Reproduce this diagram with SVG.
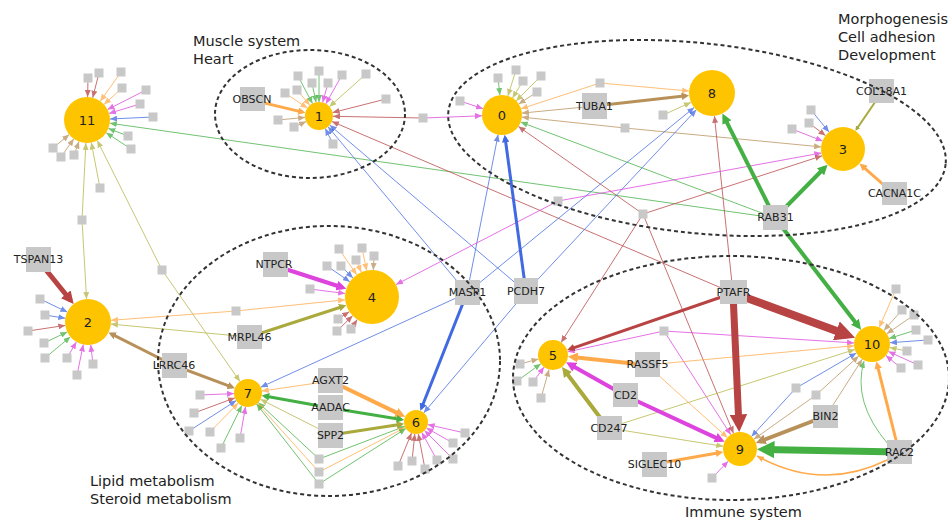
<svg xmlns="http://www.w3.org/2000/svg" width="948" height="521" viewBox="0 0 948 521">
<defs>
<style>
text{font-family:"DejaVu Sans","Liberation Sans",sans-serif;fill:#222}
.lab{font-size:14.5px}
.gl{font-size:11px;text-anchor:middle;dominant-baseline:central}
.nl{font-size:13px;text-anchor:middle;dominant-baseline:central}
.cn{fill:#FFC400}
.gb{fill:#C8C8C8}
.sq{fill:#C8C8C8}
.ell{fill:none;stroke:#333;stroke-width:2;stroke-dasharray:4 3}
.c{fill:none}
.t{stroke-width:1;opacity:.75}
.tr{stroke:#B84343;marker-end:url(#mtr)}
.to{stroke:#FFAA4A;marker-end:url(#mto)}
.tm{stroke:#DD44DD;marker-end:url(#mtm)}
.tb{stroke:#4169E1;marker-end:url(#mtb)}
.tg{stroke:#44B044;marker-end:url(#mtg)}
.tl{stroke:#B5B545;marker-end:url(#mtl)}
.tt{stroke:#B8915A;marker-end:url(#mtt)}
.kr{stroke:#B84343;marker-end:url(#mkr)}
.ko{stroke:#FFAA4A;marker-end:url(#mko)}
.km{stroke:#DD44DD;marker-end:url(#mkm)}
.kb{stroke:#4169E1;marker-end:url(#mkb)}
.kg{stroke:#44B044;marker-end:url(#mkg)}
.kl{stroke:#A9A93C;marker-end:url(#mkl)}
.kt{stroke:#B8915A;marker-end:url(#mkt)}
</style>
<marker id="mtr" markerUnits="userSpaceOnUse" markerWidth="7" markerHeight="6" viewBox="0 0 7 6" refX="7" refY="3" orient="auto"><path d="M0,0L7,3L0,6z" fill="#B84343"/></marker>
<marker id="mto" markerUnits="userSpaceOnUse" markerWidth="7" markerHeight="6" viewBox="0 0 7 6" refX="7" refY="3" orient="auto"><path d="M0,0L7,3L0,6z" fill="#FFAA4A"/></marker>
<marker id="mtm" markerUnits="userSpaceOnUse" markerWidth="7" markerHeight="6" viewBox="0 0 7 6" refX="7" refY="3" orient="auto"><path d="M0,0L7,3L0,6z" fill="#DD44DD"/></marker>
<marker id="mtb" markerUnits="userSpaceOnUse" markerWidth="7" markerHeight="6" viewBox="0 0 7 6" refX="7" refY="3" orient="auto"><path d="M0,0L7,3L0,6z" fill="#4169E1"/></marker>
<marker id="mtg" markerUnits="userSpaceOnUse" markerWidth="7" markerHeight="6" viewBox="0 0 7 6" refX="7" refY="3" orient="auto"><path d="M0,0L7,3L0,6z" fill="#44B044"/></marker>
<marker id="mtl" markerUnits="userSpaceOnUse" markerWidth="7" markerHeight="6" viewBox="0 0 7 6" refX="7" refY="3" orient="auto"><path d="M0,0L7,3L0,6z" fill="#B5B545"/></marker>
<marker id="mtt" markerUnits="userSpaceOnUse" markerWidth="7" markerHeight="6" viewBox="0 0 7 6" refX="7" refY="3" orient="auto"><path d="M0,0L7,3L0,6z" fill="#B8915A"/></marker>
<marker id="mkr" markerUnits="strokeWidth" markerWidth="2.5" markerHeight="2.5" viewBox="0 0 10 10" refX="6" refY="5" orient="auto"><path d="M0,0L10,5L0,10z" fill="#B84343"/></marker>
<marker id="mko" markerUnits="strokeWidth" markerWidth="2.5" markerHeight="2.5" viewBox="0 0 10 10" refX="6" refY="5" orient="auto"><path d="M0,0L10,5L0,10z" fill="#FFAA4A"/></marker>
<marker id="mkm" markerUnits="strokeWidth" markerWidth="2.5" markerHeight="2.5" viewBox="0 0 10 10" refX="6" refY="5" orient="auto"><path d="M0,0L10,5L0,10z" fill="#DD44DD"/></marker>
<marker id="mkb" markerUnits="strokeWidth" markerWidth="2.5" markerHeight="2.5" viewBox="0 0 10 10" refX="6" refY="5" orient="auto"><path d="M0,0L10,5L0,10z" fill="#4169E1"/></marker>
<marker id="mkg" markerUnits="strokeWidth" markerWidth="2.5" markerHeight="2.5" viewBox="0 0 10 10" refX="6" refY="5" orient="auto"><path d="M0,0L10,5L0,10z" fill="#44B044"/></marker>
<marker id="mkl" markerUnits="strokeWidth" markerWidth="2.5" markerHeight="2.5" viewBox="0 0 10 10" refX="6" refY="5" orient="auto"><path d="M0,0L10,5L0,10z" fill="#A9A93C"/></marker>
<marker id="mkt" markerUnits="strokeWidth" markerWidth="2.5" markerHeight="2.5" viewBox="0 0 10 10" refX="6" refY="5" orient="auto"><path d="M0,0L10,5L0,10z" fill="#B8915A"/></marker>
</defs>
<rect width="948" height="521" fill="#fff"/>

<g id="connectors">
<g id="thin-edges">
<line class="t tr" x1="88" y1="78" x2="87.6" y2="97"/>
<line class="t tr" x1="99" y1="73" x2="92.7" y2="97.7"/>
<line class="t to" x1="121" y1="72" x2="100.3" y2="101.2"/>
<line class="t to" x1="122" y1="88" x2="104" y2="104.5"/>
<line class="t tm" x1="146" y1="90" x2="107.5" y2="109.6"/>
<line class="t tm" x1="140" y1="104" x2="109" y2="113.4"/>
<line class="t tb" x1="153" y1="117" x2="110" y2="119"/>
<line class="t tg" x1="128" y1="136" x2="108.4" y2="128.4"/>
<line class="t tg" x1="131" y1="149" x2="106.2" y2="132.7"/>
<line class="t tt" x1="53" y1="148" x2="69.2" y2="134.6"/>
<line class="t tt" x1="61" y1="157" x2="73.8" y2="138.8"/>
<line class="t tt" x1="74" y1="155" x2="79" y2="141.6"/>
<line class="t tl" x1="100" y1="188" x2="91.3" y2="142.6"/>
<line class="t tl" x1="82" y1="220" x2="85.9" y2="143"/>
<line class="t tl" x1="82" y1="220" x2="86.6" y2="299"/>
<line class="t tl" x1="162" y1="270" x2="97.3" y2="140.6"/>
<line class="t tl" x1="162" y1="270" x2="240" y2="381.5"/>
<line class="t tg" x1="775" y1="218" x2="109.8" y2="123.2"/>

<line class="t tg" x1="298" y1="76" x2="312.5" y2="103.6"/>
<line class="t tg" x1="312" y1="83" x2="316.1" y2="102.3"/>
<line class="t tg" x1="319" y1="71" x2="319" y2="102"/>
<line class="t tm" x1="328" y1="83" x2="322.7" y2="102.5"/>
<line class="t tm" x1="342" y1="75" x2="325.8" y2="103.8"/>
<line class="t tl" x1="366" y1="74" x2="329.4" y2="106.7"/>
<line class="t to" x1="285" y1="93" x2="307.4" y2="108.1"/>
<line class="t to" x1="297" y1="90" x2="309.9" y2="105.3"/>
<line class="t tt" x1="278" y1="120" x2="305.1" y2="117.4"/>
<line class="t tt" x1="294" y1="127" x2="306.2" y2="121.6"/>
<line class="t tr" x1="386" y1="99" x2="332.6" y2="112.6"/>
<line class="t tb" x1="333" y1="144" x2="325.3" y2="128.5"/>
<line class="t tr" x1="423" y1="118" x2="333" y2="116.3"/>
<line class="t tm" x1="423" y1="118" x2="482" y2="115.8"/>
<line class="t tb" x1="467" y1="293" x2="328" y2="126.7"/>
<line class="t tb" x1="526" y1="292" x2="329.7" y2="125.1"/>
<line class="t tr" x1="733" y1="293" x2="331.9" y2="121.5"/>

<line class="t tg" x1="498" y1="78" x2="499.9" y2="95.1"/>
<line class="t tl" x1="516" y1="70" x2="507.9" y2="95.9"/>
<line class="t tl" x1="523" y1="81" x2="512.5" y2="98"/>
<line class="t tl" x1="541" y1="76" x2="516.1" y2="100.9"/>
<line class="t tt" x1="537" y1="92" x2="518.7" y2="104"/>
<line class="t tm" x1="460" y1="101" x2="483" y2="108.7"/>
<line class="t to" x1="600" y1="83" x2="521" y2="108.8"/>
<line class="t to" x1="600" y1="83" x2="689.1" y2="91"/>
<line class="t tt" x1="595" y1="106" x2="521.9" y2="113.1"/>
<line class="t tt" x1="625" y1="128" x2="521.9" y2="117.1"/>
<line class="t tt" x1="625" y1="128" x2="821.1" y2="146.9"/>
<line class="t tg" x1="775" y1="218" x2="520.7" y2="122.1"/>
<line class="t tr" x1="643" y1="214" x2="518.4" y2="126.5"/>
<line class="t tb" x1="467" y1="293" x2="498.1" y2="134.6"/>

<line class="t tl" x1="663" y1="115" x2="691" y2="102.4"/>
<line class="t tb" x1="467" y1="293" x2="694.2" y2="107.5"/>
<line class="t tb" x1="526" y1="292" x2="696.3" y2="109.8"/>
<line class="t tr" x1="733" y1="293" x2="714.4" y2="115.9"/>

<line class="t tb" x1="811" y1="110" x2="829" y2="132"/>
<line class="t tr" x1="809" y1="123" x2="825.5" y2="135.6"/>
<line class="t tm" x1="792" y1="129" x2="822.5" y2="141"/>
<line class="t tm" x1="558" y1="201" x2="821.4" y2="153"/>
<line class="t tm" x1="558" y1="201" x2="396" y2="284.6"/>
<line class="t tr" x1="643" y1="214" x2="822.1" y2="155.8"/>

<line class="t tb" x1="40" y1="299" x2="67.3" y2="312.1"/>
<line class="t tb" x1="45" y1="315" x2="65.3" y2="318.3"/>
<line class="t tr" x1="28" y1="331" x2="65.3" y2="325.4"/>
<line class="t tg" x1="44" y1="343" x2="67.3" y2="331.9"/>
<line class="t tg" x1="45" y1="358" x2="70.4" y2="336.8"/>
<line class="t tm" x1="67" y1="358" x2="76.4" y2="341.9"/>
<line class="t tm" x1="77" y1="375" x2="83.3" y2="344.5"/>
<line class="t tm" x1="93" y1="364" x2="90.7" y2="344.8"/>
<line class="t to" x1="236" y1="311" x2="110.9" y2="320.3"/>
<line class="t to" x1="236" y1="311" x2="345.1" y2="299.8"/>
<line class="t tl" x1="249" y1="337" x2="110.9" y2="324.1"/>

<line class="t to" x1="339" y1="249" x2="356.7" y2="274.7"/>
<line class="t to" x1="362" y1="248" x2="366.6" y2="270.5"/>
<line class="t tt" x1="374" y1="256" x2="373.3" y2="270"/>
<line class="t to" x1="356" y1="260" x2="361.3" y2="272.2"/>
<line class="t tb" x1="341" y1="266" x2="352.9" y2="277.9"/>
<line class="t tb" x1="327" y1="266" x2="349.8" y2="281.7"/>
<line class="t tm" x1="310" y1="289" x2="345.2" y2="293.5"/>
<line class="t tr" x1="338" y1="319" x2="349.3" y2="311.7"/>
<line class="t tr" x1="351" y1="329" x2="357.2" y2="319.6"/>
<line class="t tr" x1="337" y1="331" x2="352.6" y2="315.8"/>

<line class="t tm" x1="200" y1="395" x2="234" y2="393.6"/>
<line class="t tr" x1="194" y1="413" x2="234.9" y2="397.9"/>
<line class="t tb" x1="189" y1="431" x2="236.2" y2="400.6"/>
<line class="t to" x1="210" y1="432" x2="238.2" y2="403"/>
<line class="t tg" x1="221" y1="448" x2="241.8" y2="405.6"/>
<line class="t tm" x1="240" y1="438" x2="245.5" y2="406.8"/>
<line class="t to" x1="331" y1="381" x2="261.8" y2="391"/>
<line class="t tl" x1="331" y1="435" x2="260.5" y2="399.3"/>
<line class="t tb" x1="467" y1="293" x2="260.7" y2="387.2"/>
<line class="t tg" x1="319" y1="459" x2="258.3" y2="402.5"/>
<line class="t to" x1="319" y1="472" x2="257.4" y2="403.4"/>
<line class="t tg" x1="319" y1="484" x2="256.6" y2="404"/>
<line class="t tg" x1="319" y1="459" x2="404.8" y2="426.3"/>
<line class="t to" x1="319" y1="472" x2="405.3" y2="427.5"/>
<line class="t tg" x1="319" y1="484" x2="405.9" y2="428.5"/>

<line class="t tr" x1="398" y1="466" x2="411.5" y2="433.1"/>
<line class="t tr" x1="412" y1="461" x2="414.8" y2="433.9"/>
<line class="t tr" x1="425" y1="469" x2="418.3" y2="433.8"/>
<line class="t tm" x1="437" y1="460" x2="421.8" y2="432.5"/>
<line class="t tm" x1="453" y1="459" x2="424.5" y2="430.5"/>
<line class="t tm" x1="453" y1="443" x2="426.4" y2="427.9"/>
<line class="t tm" x1="465" y1="433" x2="427.7" y2="424.6"/>
<line class="t tb" x1="526" y1="292" x2="423.8" y2="412.8"/>

<line class="t tt" x1="520" y1="364" x2="538.5" y2="359"/>
<line class="t tg" x1="517" y1="381" x2="540.8" y2="363.8"/>
<line class="t tm" x1="533" y1="382" x2="544.1" y2="367.1"/>
<line class="t tt" x1="541" y1="398" x2="549" y2="369.5"/>
<line class="t tr" x1="643" y1="214" x2="561.1" y2="342.4"/>
<line class="t tm" x1="664" y1="331" x2="567.7" y2="351.8"/>
<line class="t tm" x1="664" y1="331" x2="854" y2="342.9"/>
<line class="t tm" x1="664" y1="331" x2="730.8" y2="434.7"/>
<line class="t tr" x1="643" y1="214" x2="733.5" y2="433.3"/>

<line class="t to" x1="896" y1="289" x2="879.2" y2="327.5"/>
<line class="t tt" x1="902" y1="310" x2="883.9" y2="330.5"/>
<line class="t tt" x1="914" y1="315" x2="886.8" y2="333.8"/>
<line class="t tg" x1="916" y1="330" x2="889.1" y2="338.5"/>
<line class="t tb" x1="928" y1="340" x2="890" y2="342.7"/>
<line class="t tl" x1="907" y1="351" x2="889.6" y2="347.5"/>
<line class="t tm" x1="901" y1="368" x2="885.9" y2="355.5"/>
<line class="t tm" x1="918" y1="365" x2="888.4" y2="351.5"/>
<line class="t to" x1="647" y1="365" x2="854.1" y2="345.7"/>
<line class="t tl" x1="608" y1="428" x2="854.8" y2="349.5"/>
<line class="t tb" x1="796" y1="388" x2="856.4" y2="353"/>
<line class="t tb" x1="796" y1="388" x2="751.5" y2="436.5"/>
<line class="t tt" x1="816" y1="395" x2="858.7" y2="356.1"/>
<line class="t tt" x1="816" y1="395" x2="753.9" y2="439.2"/>
<line class="t tt" x1="826" y1="416" x2="862.3" y2="359.2"/>

<line class="t tm" x1="712" y1="478" x2="728.2" y2="461.2"/>
<line class="t to" x1="647" y1="365" x2="727.4" y2="437.6"/>
<line class="t tl" x1="608" y1="428" x2="723.2" y2="446.3"/>
<path class="c to" stroke-width="1.6" d="M887,460 Q822,492 757,456"/>
<path class="c t tg" d="M888,444 Q852,402 864,361"/>
</g>

<g id="thick-edges">
<line class="kr" stroke-width="5" x1="38" y1="260" x2="70.5" y2="300.2"/>
<line class="kt" stroke-width="3" x1="173" y1="365" x2="111.2" y2="333.8"/>
<line class="kt" stroke-width="3" x1="173" y1="365" x2="232.1" y2="387.1"/>
<line class="ko" stroke-width="3" x1="252" y1="100" x2="302.5" y2="112.1"/>
<line class="kt" stroke-width="3" x1="595" y1="106" x2="686.1" y2="95.8"/>
<line class="kl" stroke-width="2" x1="882" y1="92" x2="856.5" y2="129.2"/>
<line class="ko" stroke-width="3" x1="894" y1="194" x2="861.8" y2="165.6"/>
<line class="kg" stroke-width="4" x1="775" y1="218" x2="824.8" y2="167.5"/>
<line class="kg" stroke-width="4" x1="775" y1="218" x2="724.2" y2="117.1"/>
<line class="kg" stroke-width="4" x1="775" y1="218" x2="858.6" y2="326.5"/>
<line class="km" stroke-width="4" x1="273" y1="265" x2="342.5" y2="287.5"/>
<line class="kl" stroke-width="3" x1="249" y1="337" x2="343.5" y2="306.2"/>
<line class="kb" stroke-width="3" x1="467" y1="293" x2="421.5" y2="408"/>
<line class="kb" stroke-width="3" x1="526" y1="292" x2="505.1" y2="137.8"/>
<line class="ko" stroke-width="4" x1="331" y1="381" x2="401.6" y2="415.1"/>
<line class="kg" stroke-width="3" x1="331" y1="408" x2="264.7" y2="396"/>
<line class="kg" stroke-width="3" x1="331" y1="408" x2="401.2" y2="419.5"/>
<line class="kl" stroke-width="3" x1="331" y1="435" x2="401.2" y2="424.3"/>
<line class="kr" stroke-width="8" x1="733" y1="293" x2="847.6" y2="335"/>
<line class="kr" stroke-width="7" x1="733" y1="293" x2="738.9" y2="425"/>
<line class="kr" stroke-width="3" x1="733" y1="293" x2="570" y2="349.1"/>
<line class="ko" stroke-width="4" x1="647" y1="365" x2="571.9" y2="357"/>
<line class="km" stroke-width="4" x1="626" y1="396" x2="569.6" y2="364.3"/>
<line class="km" stroke-width="4" x1="626" y1="396" x2="721" y2="440.1"/>
<line class="kl" stroke-width="4" x1="608" y1="428" x2="564.4" y2="370.2"/>
<line class="kt" stroke-width="4" x1="826" y1="416" x2="759.6" y2="441.5"/>
<line class="kg" stroke-width="7" x1="899" y1="452" x2="764" y2="449.4"/>
<line class="ko" stroke-width="3" x1="899" y1="452" x2="877.1" y2="364.4"/>
<line class="ko" stroke-width="3" x1="655" y1="464" x2="720.3" y2="452.5"/>
</g>
</g>

<g id="satellites">
<rect class="sq" id="s1" x="83.5" y="73.5" width="9" height="9"/>
<rect class="sq" id="s2" x="94.5" y="68.5" width="9" height="9"/>
<rect class="sq" id="s3" x="116.5" y="67.5" width="9" height="9"/>
<rect class="sq" id="s4" x="117.5" y="83.5" width="9" height="9"/>
<rect class="sq" id="s5" x="141.5" y="85.5" width="9" height="9"/>
<rect class="sq" id="s6" x="135.5" y="99.5" width="9" height="9"/>
<rect class="sq" id="s7" x="148.5" y="112.5" width="9" height="9"/>
<rect class="sq" id="s8" x="123.5" y="131.5" width="9" height="9"/>
<rect class="sq" id="s9" x="126.5" y="144.5" width="9" height="9"/>
<rect class="sq" id="s10" x="48.5" y="143.5" width="9" height="9"/>
<rect class="sq" id="s11" x="56.5" y="152.5" width="9" height="9"/>
<rect class="sq" id="s12" x="69.5" y="150.5" width="9" height="9"/>
<rect class="sq" id="s13" x="95.5" y="183.5" width="9" height="9"/>
<rect class="sq" id="s14" x="77.5" y="215.5" width="9" height="9"/>
<rect class="sq" id="s15" x="157.5" y="265.5" width="9" height="9"/>
<rect class="sq" id="s16" x="293.5" y="71.5" width="9" height="9"/>
<rect class="sq" id="s17" x="307.5" y="78.5" width="9" height="9"/>
<rect class="sq" id="s18" x="314.5" y="66.5" width="9" height="9"/>
<rect class="sq" id="s19" x="323.5" y="78.5" width="9" height="9"/>
<rect class="sq" id="s20" x="337.5" y="70.5" width="9" height="9"/>
<rect class="sq" id="s21" x="361.5" y="69.5" width="9" height="9"/>
<rect class="sq" id="s22" x="280.5" y="88.5" width="9" height="9"/>
<rect class="sq" id="s23" x="292.5" y="85.5" width="9" height="9"/>
<rect class="sq" id="s24" x="273.5" y="115.5" width="9" height="9"/>
<rect class="sq" id="s25" x="289.5" y="122.5" width="9" height="9"/>
<rect class="sq" id="s26" x="381.5" y="94.5" width="9" height="9"/>
<rect class="sq" id="s27" x="328.5" y="139.5" width="9" height="9"/>
<rect class="sq" id="s28" x="418.5" y="113.5" width="9" height="9"/>
<rect class="sq" id="s29" x="493.5" y="73.5" width="9" height="9"/>
<rect class="sq" id="s30" x="511.5" y="65.5" width="9" height="9"/>
<rect class="sq" id="s31" x="518.5" y="76.5" width="9" height="9"/>
<rect class="sq" id="s32" x="536.5" y="71.5" width="9" height="9"/>
<rect class="sq" id="s33" x="532.5" y="87.5" width="9" height="9"/>
<rect class="sq" id="s34" x="455.5" y="96.5" width="9" height="9"/>
<rect class="sq" id="s35" x="595.5" y="78.5" width="9" height="9"/>
<rect class="sq" id="s36" x="620.5" y="123.5" width="9" height="9"/>
<rect class="sq" id="s37" x="638.5" y="209.5" width="9" height="9"/>
<rect class="sq" id="s38" x="553.5" y="196.5" width="9" height="9"/>
<rect class="sq" id="s39" x="658.5" y="110.5" width="9" height="9"/>
<rect class="sq" id="s40" x="806.5" y="105.5" width="9" height="9"/>
<rect class="sq" id="s41" x="804.5" y="118.5" width="9" height="9"/>
<rect class="sq" id="s42" x="787.5" y="124.5" width="9" height="9"/>
<rect class="sq" id="s43" x="35.5" y="294.5" width="9" height="9"/>
<rect class="sq" id="s44" x="40.5" y="310.5" width="9" height="9"/>
<rect class="sq" id="s45" x="23.5" y="326.5" width="9" height="9"/>
<rect class="sq" id="s46" x="39.5" y="338.5" width="9" height="9"/>
<rect class="sq" id="s47" x="40.5" y="353.5" width="9" height="9"/>
<rect class="sq" id="s48" x="62.5" y="353.5" width="9" height="9"/>
<rect class="sq" id="s49" x="72.5" y="370.5" width="9" height="9"/>
<rect class="sq" id="s50" x="88.5" y="359.5" width="9" height="9"/>
<rect class="sq" id="s51" x="231.5" y="306.5" width="9" height="9"/>
<rect class="sq" id="s52" x="334.5" y="244.5" width="9" height="9"/>
<rect class="sq" id="s53" x="357.5" y="243.5" width="9" height="9"/>
<rect class="sq" id="s54" x="369.5" y="251.5" width="9" height="9"/>
<rect class="sq" id="s55" x="351.5" y="255.5" width="9" height="9"/>
<rect class="sq" id="s56" x="336.5" y="261.5" width="9" height="9"/>
<rect class="sq" id="s57" x="322.5" y="261.5" width="9" height="9"/>
<rect class="sq" id="s58" x="305.5" y="284.5" width="9" height="9"/>
<rect class="sq" id="s59" x="333.5" y="314.5" width="9" height="9"/>
<rect class="sq" id="s60" x="346.5" y="324.5" width="9" height="9"/>
<rect class="sq" id="s61" x="332.5" y="326.5" width="9" height="9"/>
<rect class="sq" id="s62" x="195.5" y="390.5" width="9" height="9"/>
<rect class="sq" id="s63" x="189.5" y="408.5" width="9" height="9"/>
<rect class="sq" id="s64" x="184.5" y="426.5" width="9" height="9"/>
<rect class="sq" id="s65" x="205.5" y="427.5" width="9" height="9"/>
<rect class="sq" id="s66" x="216.5" y="443.5" width="9" height="9"/>
<rect class="sq" id="s67" x="235.5" y="433.5" width="9" height="9"/>
<rect class="sq" id="s68" x="314.5" y="454.5" width="9" height="9"/>
<rect class="sq" id="s69" x="314.5" y="467.5" width="9" height="9"/>
<rect class="sq" id="s70" x="314.5" y="479.5" width="9" height="9"/>
<rect class="sq" id="s71" x="393.5" y="461.5" width="9" height="9"/>
<rect class="sq" id="s72" x="407.5" y="456.5" width="9" height="9"/>
<rect class="sq" id="s73" x="420.5" y="464.5" width="9" height="9"/>
<rect class="sq" id="s74" x="432.5" y="455.5" width="9" height="9"/>
<rect class="sq" id="s75" x="448.5" y="454.5" width="9" height="9"/>
<rect class="sq" id="s76" x="448.5" y="438.5" width="9" height="9"/>
<rect class="sq" id="s77" x="460.5" y="428.5" width="9" height="9"/>
<rect class="sq" id="s78" x="515.5" y="359.5" width="9" height="9"/>
<rect class="sq" id="s79" x="512.5" y="376.5" width="9" height="9"/>
<rect class="sq" id="s80" x="528.5" y="377.5" width="9" height="9"/>
<rect class="sq" id="s81" x="536.5" y="393.5" width="9" height="9"/>
<rect class="sq" id="s82" x="659.5" y="326.5" width="9" height="9"/>
<rect class="sq" id="s83" x="891.5" y="284.5" width="9" height="9"/>
<rect class="sq" id="s84" x="897.5" y="305.5" width="9" height="9"/>
<rect class="sq" id="s85" x="909.5" y="310.5" width="9" height="9"/>
<rect class="sq" id="s86" x="911.5" y="325.5" width="9" height="9"/>
<rect class="sq" id="s87" x="923.5" y="335.5" width="9" height="9"/>
<rect class="sq" id="s88" x="902.5" y="346.5" width="9" height="9"/>
<rect class="sq" id="s89" x="896.5" y="363.5" width="9" height="9"/>
<rect class="sq" id="s90" x="913.5" y="360.5" width="9" height="9"/>
<rect class="sq" id="s91" x="791.5" y="383.5" width="9" height="9"/>
<rect class="sq" id="s92" x="811.5" y="390.5" width="9" height="9"/>
<rect class="sq" id="s93" x="707.5" y="473.5" width="9" height="9"/>
</g>

<g id="genes">
<g id="g-OBSCN"><rect class="gb" x="240" y="87" width="25" height="24"/></g>
<g id="g-TUBA1"><rect class="gb" x="582" y="93" width="25" height="26"/></g>
<g id="g-COL18A1"><rect class="gb" x="869" y="79" width="25" height="24"/></g>
<g id="g-CACNA1C"><rect class="gb" x="882" y="182" width="25" height="23"/></g>
<g id="g-RAB31"><rect class="gb" x="763" y="205" width="25" height="25"/></g>
<g id="g-TSPAN13"><rect class="gb" x="26" y="247" width="25" height="25"/></g>
<g id="g-LRRC46"><rect class="gb" x="162" y="353" width="25" height="25"/></g>
<g id="g-NTPCR"><rect class="gb" x="263" y="252" width="25" height="25"/></g>
<g id="g-MRPL46"><rect class="gb" x="237" y="325" width="25" height="24"/></g>
<g id="g-MASP1"><rect class="gb" x="455" y="280" width="25" height="25"/></g>
<g id="g-AGXT2"><rect class="gb" x="318" y="368" width="25" height="25"/></g>
<g id="g-AADAC"><rect class="gb" x="318" y="395" width="25" height="25"/></g>
<g id="g-SPP2"><rect class="gb" x="318" y="423" width="25" height="25"/></g>
<g id="g-PCDH7"><rect class="gb" x="514" y="278" width="24" height="26"/></g>
<g id="g-PTAFR"><rect class="gb" x="720" y="280" width="27" height="24"/></g>
<g id="g-RASSF5"><rect class="gb" x="635" y="352" width="25" height="25"/></g>
<g id="g-CD2"><rect class="gb" x="613" y="383" width="25" height="24"/></g>
<g id="g-CD247"><rect class="gb" x="597" y="416" width="25" height="24"/></g>
<g id="g-BIN2"><rect class="gb" x="813" y="405" width="25" height="23"/></g>
<g id="g-SIGLEC10"><rect class="gb" x="642" y="452" width="25" height="25"/></g>
<g id="g-RAC2"><rect class="gb" x="887" y="440" width="25" height="24"/></g>
</g>

<g id="clusters">
<g id="n11"><circle class="cn" cx="87" cy="120" r="23"/><text class="nl" x="87" y="120">11</text></g>
<g id="n1"><circle class="cn" cx="319" cy="116" r="14"/><text class="nl" x="319" y="116">1</text></g>
<g id="n0"><circle class="cn" cx="502" cy="115" r="20"/><text class="nl" x="502" y="115">0</text></g>
<g id="n8"><circle class="cn" cx="712" cy="93" r="23"/><text class="nl" x="712" y="93">8</text></g>
<g id="n3"><circle class="cn" cx="843" cy="149" r="22"/><text class="nl" x="843" y="149">3</text></g>
<g id="n2"><circle class="cn" cx="88" cy="322" r="23"/><text class="nl" x="88" y="322">2</text></g>
<g id="n4"><circle class="cn" cx="372" cy="297" r="27"/><text class="nl" x="372" y="297">4</text></g>
<g id="n7"><circle class="cn" cx="248" cy="393" r="14"/><text class="nl" x="248" y="393">7</text></g>
<g id="n6"><circle class="cn" cx="416" cy="422" r="12"/><text class="nl" x="416" y="422">6</text></g>
<g id="n5"><circle class="cn" cx="553" cy="355" r="15"/><text class="nl" x="553" y="355">5</text></g>
<g id="n10"><circle class="cn" cx="872" cy="344" r="18"/><text class="nl" x="872" y="344">10</text></g>
<g id="n9"><circle class="cn" cx="740" cy="449" r="17"/><text class="nl" x="740" y="449">9</text></g>
</g>

<g id="modules">
<ellipse class="ell" cx="310" cy="114" rx="95" ry="64"/>
<ellipse class="ell" cx="697" cy="138" rx="250" ry="95" transform="rotate(6 697 138)"/>
<ellipse class="ell" cx="329" cy="361" rx="171" ry="135"/>
<ellipse class="ell" cx="731" cy="378" rx="218" ry="122"/>
</g>

<g id="gene-labels">
<text class="gl" x="252" y="99">OBSCN</text>
<text class="gl" x="594.5" y="106">TUBA1</text>
<text class="gl" x="881.5" y="91">COL18A1</text>
<text class="gl" x="894.5" y="193.5">CACNA1C</text>
<text class="gl" x="775.5" y="217.5">RAB31</text>
<text class="gl" x="38.5" y="259.5">TSPAN13</text>
<text class="gl" x="174" y="365.5">LRRC46</text>
<text class="gl" x="274" y="264.5">NTPCR</text>
<text class="gl" x="249.5" y="337">MRPL46</text>
<text class="gl" x="467.5" y="292.5">MASP1</text>
<text class="gl" x="330.5" y="380.5">AGXT2</text>
<text class="gl" x="330.5" y="407.5">AADAC</text>
<text class="gl" x="330.5" y="435.5">SPP2</text>
<text class="gl" x="526" y="291">PCDH7</text>
<text class="gl" x="733.5" y="292">PTAFR</text>
<text class="gl" x="647.5" y="364.5">RASSF5</text>
<text class="gl" x="625.5" y="395">CD2</text>
<text class="gl" x="609" y="428">CD247</text>
<text class="gl" x="825.5" y="416.5">BIN2</text>
<text class="gl" x="654.5" y="464.5">SIGLEC10</text>
<text class="gl" x="899.5" y="452">RAC2</text>
</g>

<g id="module-labels">
<text class="lab" x="193" y="46">Muscle system</text>
<text class="lab" x="193" y="64">Heart</text>
<text class="lab" x="838" y="24">Morphogenesis</text>
<text class="lab" x="838" y="42">Cell adhesion</text>
<text class="lab" x="838" y="60">Development</text>
<text class="lab" x="90" y="486">Lipid metabolism</text>
<text class="lab" x="90" y="504">Steroid metabolism</text>
<text class="lab" x="685" y="517">Immune system</text>
</g>
</svg>
